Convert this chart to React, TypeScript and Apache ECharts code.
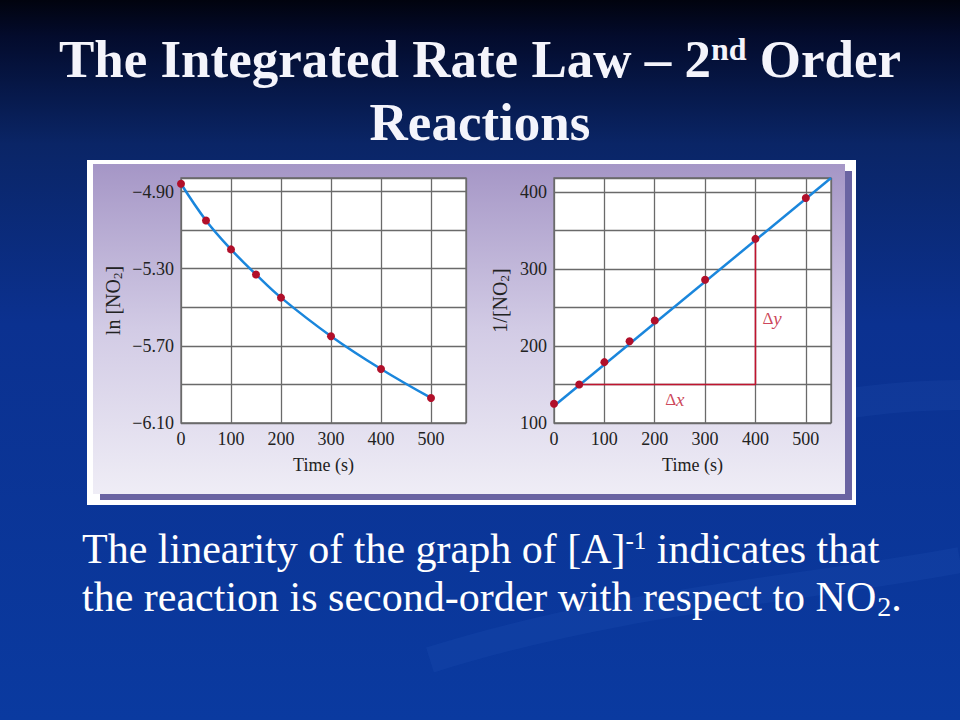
import React, { useEffect, useRef } from 'react';
import * as echarts from 'echarts';

const timeLn = [0, 50, 100, 150, 200, 300, 400, 500];
const lnNO2 = [-4.86, -5.05, -5.2, -5.33, -5.45, -5.65, -5.82, -5.97];
const timeInv = [0, 50, 100, 150, 200, 300, 400, 500];
const invNO2 = [125, 150, 179, 206, 233, 286, 339, 392];
const fitX = [0, 550];
const fitY = [122, 418];
const triX = [50, 400, 400];
const triY = [150, 150, 339];
const lnLabels = [-6.1, -5.7, -5.3, -4.9];
const invLabels = [100, 200, 300, 400];
const timeLabels = [0, 100, 200, 300, 400, 500];
const dxPos = [240, 131];
const dyPos = [433, 236];

const SERIF = '"Liberation Serif", "DejaVu Serif", serif';
const RED = '#c0142f';
const DOT = '#b10f2a';
const BLUE = '#1a86dc';
const GRIDC = '#6a6a6a';

const near = (arr: number[], v: number) => arr.some((a) => Math.abs(a - v) < 1e-6);

function measure(text: string, font: string): number {
  const c = document.createElement('canvas').getContext('2d');
  if (!c) return text.length * 18;
  c.font = font;
  return c.measureText(text).width;
}

export default function App() {
  const ref = useRef<HTMLDivElement>(null);
  useEffect(() => {
    const chart = echarts.init(ref.current!, null, { renderer: 'svg' });
    const tickLabel = { fontFamily: SERIF, fontSize: 18, color: '#222' };
    const nameStyle = {
      fontFamily: SERIF,
      fontSize: 20,
      color: '#222',
      rich: {
        n: { fontFamily: SERIF, fontSize: 20, color: '#222', lineHeight: 22 },
        s: { fontFamily: SERIF, fontSize: 13, color: '#222', verticalAlign: 'bottom', lineHeight: 12 },
      },
    };
    const bodyFont = `42px ${SERIF}`;
    const subFont = `28px ${SERIF}`;
    const line2Main = 'the reaction is second-order with respect to NO';
    const line2W = measure(line2Main, bodyFont);
    const subW = measure('2', subFont);
    const textX = 82;

    const xAxisBase = (max: number) => ({
      type: 'value',
      min: 0,
      max,
      interval: 100,
      axisLine: { show: false },
      axisTick: { show: false },
      splitLine: { show: true, lineStyle: { color: GRIDC, width: 1.3 } },
      axisLabel: {
        ...tickLabel,
        margin: 7,
        showMaxLabel: true,
        formatter: (v: number) => (near(timeLabels, v) ? String(v) : ''),
      },
      name: 'Time (s)',
      nameLocation: 'middle',
      nameGap: 33,
      nameTextStyle: { fontFamily: SERIF, fontSize: 18, color: '#222' },
    });
    const option: any = {
      animation: false,
      backgroundColor: new echarts.graphic.LinearGradient(0, 0, 0, 1, [
        { offset: 0, color: '#01030e' },
        { offset: 0.05, color: '#030b2c' },
        { offset: 0.2, color: '#0a2566' },
        { offset: 0.45, color: '#0b3190' },
        { offset: 1, color: '#0a3aa0' },
      ]),
      graphic: [
        {
          type: 'bezierCurve',
          z: -20,
          shape: { x1: 430, y1: 660, x2: 960, y2: 560, cpx1: 620, cpy1: 600, cpx2: 800, cpy2: 590 },
          style: { stroke: 'rgba(90,140,235,0.07)', lineWidth: 26, fill: null },
        },
        {
          type: 'bezierCurve',
          z: -20,
          shape: { x1: 600, y1: 470, x2: 960, y2: 395, cpx1: 760, cpy1: 410, cpx2: 880, cpy2: 395 },
          style: { stroke: 'rgba(90,140,235,0.07)', lineWidth: 30, fill: null },
        },
        { type: 'rect', z: -10, shape: { x: 87, y: 160, width: 769, height: 345 }, style: { fill: '#ffffff' } },
        { type: 'rect', z: -9, shape: { x: 845, y: 171, width: 7, height: 329 }, style: { fill: '#6a64a2' } },
        { type: 'rect', z: -9, shape: { x: 100, y: 494, width: 752, height: 6 }, style: { fill: '#6a64a2' } },
        {
          type: 'rect',
          z: -8,
          shape: { x: 93, y: 164, width: 752, height: 330 },
          style: {
            fill: new echarts.graphic.LinearGradient(0, 0, 0, 1, [
              { offset: 0, color: '#a596c6' },
              { offset: 0.5, color: '#d2cbe5' },
              { offset: 1, color: '#efedf6' },
            ]),
          },
        },
        {
          type: 'text',
          z: 50,
          x: 480,
          y: 59,
          style: {
            text: 'The Integrated Rate Law – 2{sup|nd} Order',
            align: 'center',
            verticalAlign: 'middle',
            fill: '#f4f4fb',
            font: `bold 53px ${SERIF}`,
            shadowColor: 'rgba(0,0,0,0.9)',
            shadowOffsetX: 2,
            shadowOffsetY: 2,
            shadowBlur: 2,
            rich: {
              sup: { font: `bold 32px ${SERIF}`, fill: '#f4f4fb', verticalAlign: 'top', lineHeight: 30 },
            },
          },
        },
        {
          type: 'text',
          z: 50,
          x: 480,
          y: 122,
          style: {
            text: 'Reactions',
            align: 'center',
            verticalAlign: 'middle',
            fill: '#f4f4fb',
            font: `bold 53px ${SERIF}`,
            shadowColor: 'rgba(0,0,0,0.9)',
            shadowOffsetX: 2,
            shadowOffsetY: 2,
            shadowBlur: 2,
          },
        },
        {
          type: 'text',
          z: 50,
          x: textX,
          y: 549,
          style: {
            text: 'The linearity of the graph of [A]{sup|-1} indicates that',
            align: 'left',
            verticalAlign: 'middle',
            fill: '#ffffff',
            font: bodyFont,
            rich: {
              sup: { font: `25px ${SERIF}`, fill: '#ffffff', verticalAlign: 'top', lineHeight: 28 },
            },
          },
        },
        {
          type: 'text',
          z: 50,
          x: textX,
          y: 597,
          style: {
            text: line2Main,
            align: 'left',
            verticalAlign: 'middle',
            fill: '#ffffff',
            font: bodyFont,
          },
        },
        {
          type: 'text',
          z: 50,
          x: textX + line2W + 1,
          y: 606,
          style: {
            text: '2',
            align: 'left',
            verticalAlign: 'middle',
            fill: '#ffffff',
            font: subFont,
          },
        },
        {
          type: 'text',
          z: 50,
          x: textX + line2W + 1 + subW,
          y: 597,
          style: {
            text: '.',
            align: 'left',
            verticalAlign: 'middle',
            fill: '#ffffff',
            font: bodyFont,
          },
        },
      ],
      grid: [
        {
          left: 181, top: 178, width: 285, height: 245,
          show: true, backgroundColor: '#ffffff', borderColor: GRIDC, borderWidth: 1.3,
        },
        {
          left: 554, top: 178, width: 277, height: 245,
          show: true, backgroundColor: '#ffffff', borderColor: GRIDC, borderWidth: 1.3,
        },
      ],
      xAxis: [
        { ...xAxisBase(570), gridIndex: 0 },
        { ...xAxisBase(550), gridIndex: 1 },
      ],
      yAxis: [
        {
          type: 'value',
          gridIndex: 0,
          min: -6.1,
          max: -4.83,
          interval: 0.2,
          axisLine: { show: false },
          axisTick: { show: false },
          splitLine: { show: true, lineStyle: { color: GRIDC, width: 1.3 } },
          axisLabel: {
            ...tickLabel,
            margin: 7,
            formatter: (v: number) => (near(lnLabels, v) ? '−' + Math.abs(v).toFixed(2) : ''),
          },
          name: '{n|ln [NO}{s|2}{n|]}',
          nameLocation: 'middle',
          nameRotate: 90,
          nameGap: 57,
          nameTextStyle: nameStyle,
        },
        {
          type: 'value',
          gridIndex: 1,
          min: 100,
          max: 418,
          interval: 50,
          axisLine: { show: false },
          axisTick: { show: false },
          splitLine: { show: true, lineStyle: { color: GRIDC, width: 1.3 } },
          axisLabel: {
            ...tickLabel,
            margin: 7,
            formatter: (v: number) => (near(invLabels, v) ? String(v) : ''),
          },
          name: '{n|1/[NO}{s|2}{n|]}',
          nameLocation: 'middle',
          nameRotate: 90,
          nameGap: 43,
          nameTextStyle: nameStyle,
        },
      ],
      series: [
        {
          type: 'line',
          xAxisIndex: 0,
          yAxisIndex: 0,
          data: timeLn.map((t, i) => [t, lnNO2[i]]),
          smooth: 0.4,
          symbol: 'circle',
          symbolSize: 8,
          itemStyle: { color: DOT },
          lineStyle: { color: BLUE, width: 2.5 },
          z: 3,
        },
        {
          type: 'line',
          xAxisIndex: 1,
          yAxisIndex: 1,
          data: triX.map((x, i) => [x, triY[i]]),
          symbol: 'none',
          lineStyle: { color: RED, width: 1.6 },
          z: 2,
        },
        {
          type: 'line',
          xAxisIndex: 1,
          yAxisIndex: 1,
          data: fitX.map((x, i) => [x, fitY[i]]),
          symbol: 'none',
          lineStyle: { color: BLUE, width: 2.5 },
          z: 3,
        },
        {
          type: 'scatter',
          xAxisIndex: 1,
          yAxisIndex: 1,
          data: timeInv.map((t, i) => [t, invNO2[i]]),
          symbol: 'circle',
          symbolSize: 8,
          itemStyle: { color: DOT, opacity: 1 },
          z: 4,
        },
        {
          type: 'scatter',
          xAxisIndex: 1,
          yAxisIndex: 1,
          data: [dxPos, dyPos].map((p, i) => ({ value: p, name: i === 0 ? 'x' : 'y' })),
          symbolSize: 0,
          silent: true,
          label: {
            show: true,
            position: 'inside',
            formatter: (p: any) => `{d|Δ}{i|${p.name}}`,
            rich: {
              d: { fontFamily: SERIF, fontSize: 17, color: RED },
              i: { fontFamily: SERIF, fontSize: 19, fontStyle: 'italic', color: RED },
            },
          },
          z: 5,
        },
      ],
    };
    chart.setOption(option);
    return () => chart.dispose();
  }, []);
  return (
    <div
      ref={ref}
      style={{ position: 'fixed', left: 0, top: 0, width: 960, height: 720 }}
    />
  );
}
